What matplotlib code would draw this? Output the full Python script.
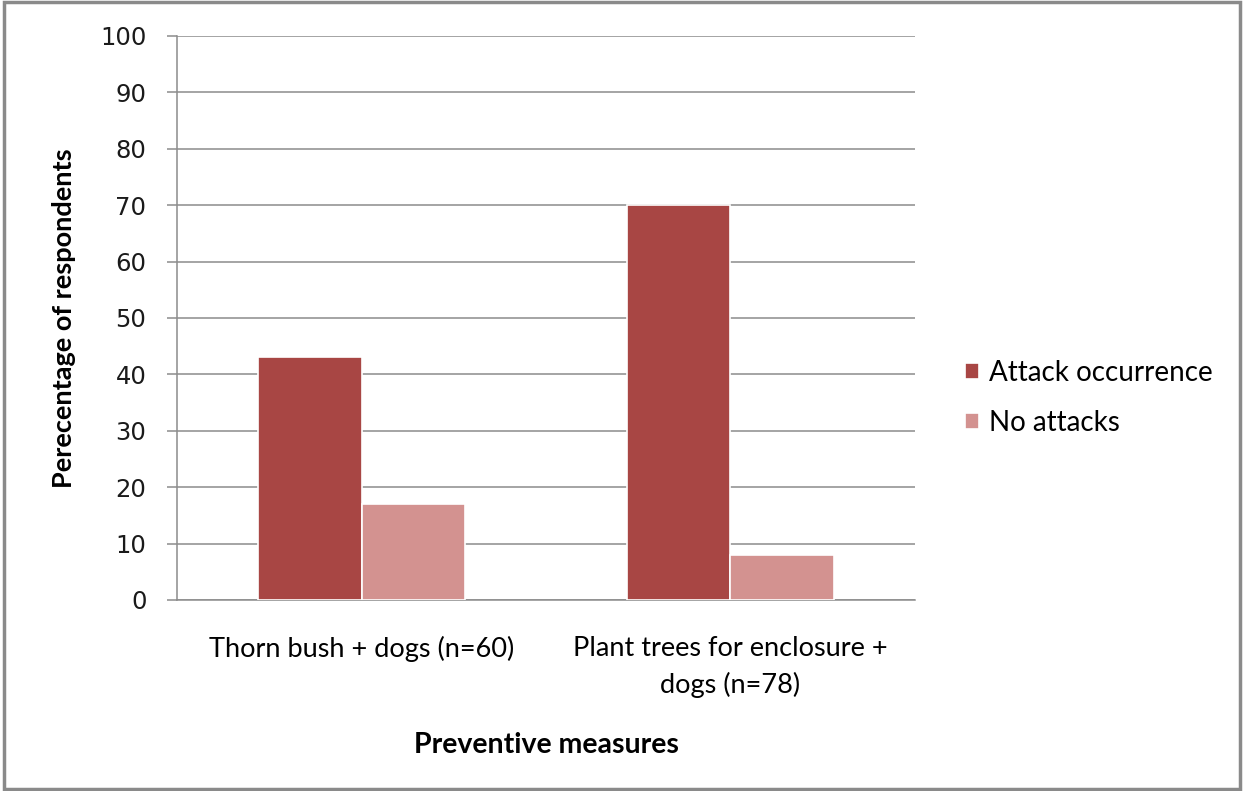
import numpy as np
import matplotlib.pyplot as plt
from matplotlib.patches import Rectangle

# Attack occurrence by preventive measure
categories = ["Thorn bush + dogs (n=60)", "Plant trees for enclosure +\ndogs (n=78)"]
series_names = ["Attack occurrence", "No attacks"]
attack = [43, 70]
no_attack = [17, 8]
yticks = list(range(0, 101, 10))

colors = ["#a84644", "#d39290"]
txt_font = ["Lato", "DejaVu Sans"]

fig = plt.figure(figsize=(12.44, 7.91), dpi=100)
ax = fig.add_axes([0.1423, 0.2415, 0.5932, 0.713])

x = np.arange(len(categories))
w = 0.28
for off, vals, col, name in [(-w / 2, attack, colors[0], series_names[0]),
                             (w / 2, no_attack, colors[1], series_names[1])]:
    ax.bar(x + off, vals, width=w, color=col, edgecolor="white", linewidth=1.2,
           label=name, zorder=3)

ax.set_xlim(-0.5, len(categories) - 0.5)
ax.set_ylim(0, 100)
ax.set_yticks(yticks)
ax.yaxis.grid(True, color="#8c8c8c", linewidth=1.1, zorder=0)
ax.set_axisbelow(True)

for s in ["top", "right"]:
    ax.spines[s].set_visible(False)
ax.spines["left"].set_color("#8c8c8c")
ax.spines["bottom"].set_color("#8c8c8c")
ax.spines["left"].set_linewidth(1.1)
ax.spines["bottom"].set_linewidth(1.1)

ax.tick_params(axis="y", length=7, width=1.1, color="#8c8c8c", labelsize=17.5, pad=15)
ax.tick_params(axis="x", length=0, pad=26)
ax.set_xticks(x)
ax.set_xticklabels(categories, fontsize=19.5, family=txt_font, linespacing=1.5)
for lab in ax.get_yticklabels():
    lab.set_color("#1a1a1a")

ax.set_ylabel("Perecentage of respondents", fontsize=19.5, fontweight="bold",
              family=txt_font, labelpad=17)
ax.set_xlabel("Preventive measures", fontsize=20.5, fontweight="bold",
              family=txt_font, labelpad=25)

leg = ax.legend(loc="center left", bbox_to_anchor=(1.034, 0.358), frameon=False,
                prop={"family": txt_font, "size": 20}, handlelength=0.5,
                handleheight=0.5, handletextpad=0.35, labelspacing=0.85)

# outer border around the whole chart
fig.patches.append(Rectangle((0.003, 0.003), 0.994, 0.994, transform=fig.transFigure,
                             fill=False, edgecolor="#8a8a8a", linewidth=2.5))

fig.savefig("out.png", dpi=100)
